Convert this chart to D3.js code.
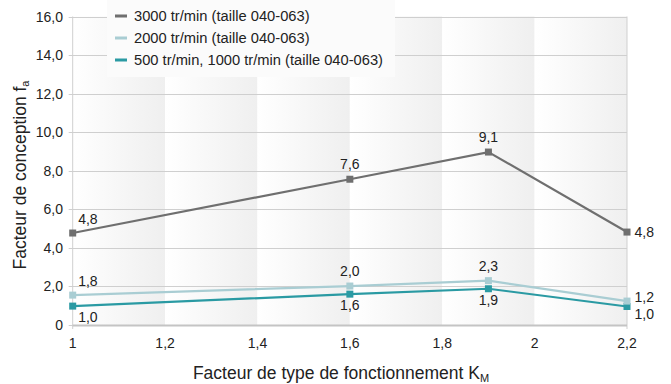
<!DOCTYPE html>
<html>
<head>
<meta charset="utf-8">
<script src="https://cdn.jsdelivr.net/npm/d3@7"></script>
<style>
  body { margin: 0; background: #fff; }
  svg { font-family: "Liberation Sans", Arial, sans-serif; }
</style>
</head>
<body>
<div id="chart"></div>
<script>
// x values (Km) and series
const xValues = [1, 1.6, 1.9, 2.2]
const xTicks = [1, 1.2, 1.4, 1.6, 1.8, 2, 2.2]
const xTickLabels = ['1', '1,2', '1,4', '1,6', '1,8', '2', '2,2']
const yTicks = [0, 2, 4, 6, 8, 10, 12, 14, 16]
const yTickLabels = ['0', '2,0', '4,0', '6,0', '8,0', '10,0', '12,0', '14,0', '16,0']

const seriesNames = [
  '3000 tr/min (taille 040-063)',
  '2000 tr/min (taille 040-063)',
  '500 tr/min, 1000 tr/min (taille 040-063)'
]
const values3000 = [4.77, 7.56, 8.97, 4.82]
const values2000 = [1.55, 2.02, 2.3, 1.24]
const values500 = [0.98, 1.6, 1.88, 0.96]
const labels3000 = ['4,8', '7,6', '9,1', '4,8']
const labels2000 = ['1,8', '2,0', '2,3', '1,2']
const labels500 = ['1,0', '1,6', '1,9', '1,0']
const colors = ['#6f6f6f', '#a9cdd3', '#2a9aa3']

const W = 671, H = 384
const margin = {left: 72.7, right: 44, top: 16.5, bottom: 59}

const svg = d3.select('#chart').append('svg')
  .attr('width', W).attr('height', H)

const x = d3.scaleLinear().domain([1, 2.2]).range([margin.left, W - margin.right])
const y = d3.scaleLinear().domain([0, 16]).range([H - margin.bottom, margin.top])

// gradient bands
const defs = svg.append('defs')
const grad = defs.append('linearGradient').attr('id', 'band')
  .attr('x1', 0).attr('x2', 1).attr('y1', 0).attr('y2', 0)
grad.append('stop').attr('offset', '0%').attr('stop-color', '#ffffff')
grad.append('stop').attr('offset', '100%').attr('stop-color', '#efefef')

const bands = d3.pairs(xTicks)
svg.append('g').selectAll('rect').data(bands).enter().append('rect')
  .attr('x', d => x(d[0]))
  .attr('width', d => x(d[1]) - x(d[0]))
  .attr('y', y(16))
  .attr('height', y(0) - y(16))
  .attr('fill', 'url(#band)')

// gridlines
svg.append('g').selectAll('line').data(yTicks).enter().append('line')
  .attr('x1', x(1) - 4).attr('x2', x(2.2))
  .attr('y1', d => Math.round(y(d)) + 0.5).attr('y2', d => Math.round(y(d)) + 0.5)
  .attr('stroke', '#cfcfcf').attr('stroke-width', 1)

// left / right borders
svg.append('line').attr('x1', x(1)).attr('x2', x(1))
  .attr('y1', y(16)).attr('y2', y(0) + 4).attr('stroke', '#cfcfcf')
svg.append('line').attr('x1', x(2.2)).attr('x2', x(2.2))
  .attr('y1', y(16)).attr('y2', y(0) + 4).attr('stroke', '#cfcfcf')
svg.append('line').attr('x1', x(1)).attr('x2', x(2.2))
  .attr('y1', y(0) + 0.5).attr('y2', y(0) + 0.5).attr('stroke', '#c4c4c4').attr('stroke-width', 2)

// y tick labels
svg.append('g').selectAll('text').data(yTicks).enter().append('text')
  .attr('x', 63).attr('y', d => y(d) + 5)
  .attr('text-anchor', 'end').attr('font-size', 14).attr('fill', '#222')
  .text((d, i) => yTickLabels[i])

// x tick labels
svg.append('g').selectAll('text').data(xTicks).enter().append('text')
  .attr('x', d => x(d)).attr('y', 347.5)
  .attr('text-anchor', 'middle').attr('font-size', 14).attr('fill', '#222')
  .text((d, i) => xTickLabels[i])

// axis titles
const xt = svg.append('text').attr('x', 341).attr('y', 378.5)
  .attr('text-anchor', 'middle').attr('font-size', 17.5).attr('fill', '#222')
xt.append('tspan').text('Facteur de type de fonctionnement K')
xt.append('tspan').attr('font-size', 11).attr('dy', 3).text('M')

const yt = svg.append('text')
  .attr('transform', 'translate(25.5,' + 175 + ') rotate(-90)')
  .attr('text-anchor', 'middle').attr('font-size', 17.5).attr('fill', '#222')
yt.append('tspan').text('Facteur de conception f')
yt.append('tspan').attr('font-size', 11).attr('dy', 3).text('a')

// series
const series = [
  {name: seriesNames[0], values: values3000, labels: labels3000, color: colors[0],
    pos: ['ar', 'a', 'a', 'r']},
  {name: seriesNames[1], values: values2000, labels: labels2000, color: colors[1],
    pos: ['ar', 'a', 'a', 'ru']},
  {name: seriesNames[2], values: values500, labels: labels500, color: colors[2],
    pos: ['br', 'b', 'b', 'rd']}
]

const line = d3.line().x((d, i) => x(xValues[i])).y(d => y(d))

series.slice().reverse().forEach(s => {
  svg.append('path').datum(s.values)
    .attr('d', line).attr('fill', 'none')
    .attr('stroke', s.color).attr('stroke-width', 2.2)
  svg.append('g').selectAll('rect').data(s.values).enter().append('rect')
    .attr('x', (d, i) => x(xValues[i]) - 3.5)
    .attr('y', d => y(d) - 3.5)
    .attr('width', 7).attr('height', 7)
    .attr('fill', s.color)
})

// value labels
series.forEach(s => {
  svg.append('g').selectAll('text').data(s.values).enter().append('text')
    .attr('font-size', 14).attr('fill', '#222')
    .attr('text-anchor', (d, i) => s.pos[i] === 'a' || s.pos[i] === 'b' ? 'middle' : 'start')
    .attr('x', (d, i) => {
      const p = s.pos[i], px = x(xValues[i])
      if (p === 'a' || p === 'b') return px
      if (p === 'ar' || p === 'br') return px + 5.5
      return px + 7.5
    })
    .attr('y', (d, i) => {
      const p = s.pos[i], py = y(d)
      if (p === 'a') return py - 10
      if (p === 'ar') return py - 9.5
      if (p === 'b' || p === 'br') return py + 16
      if (p === 'r') return py + 5
      if (p === 'ru') return py + 1
      return py + 13
    })
    .text((d, i) => s.labels[i])
})

// legend
const legend = svg.append('g')
legend.append('rect').attr('x', 107).attr('y', 0).attr('width', 288).attr('height', 77)
  .attr('fill', '#fbfbfb')
series.forEach((s, i) => {
  const ly = 16 + i * 22
  legend.append('rect').attr('x', 115).attr('y', ly - 1.5).attr('width', 12).attr('height', 3)
    .attr('fill', s.color)
  legend.append('text').attr('x', 134).attr('y', ly + 5)
    .attr('font-size', 14.7).attr('fill', '#222').text(s.name)
})
</script>
</body>
</html>
